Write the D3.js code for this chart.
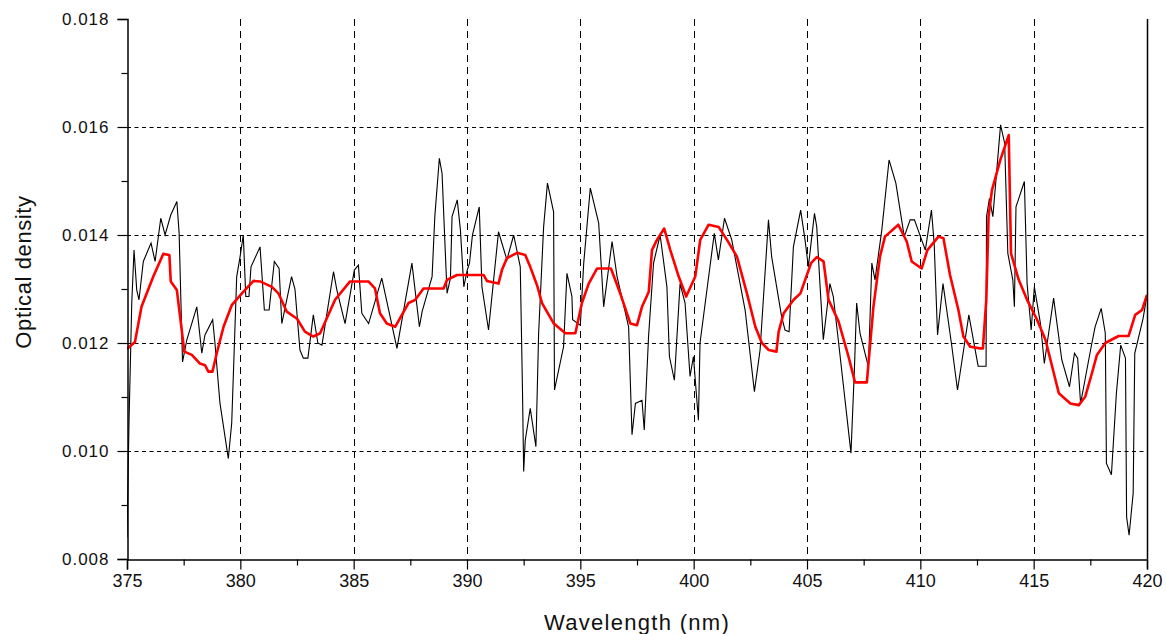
<!DOCTYPE html>
<html><head><meta charset="utf-8">
<script src="https://cdn.jsdelivr.net/npm/d3@7"></script>
<style>
html,body{margin:0;padding:0;background:#fff;}
svg{display:block;}
</style></head>
<body>
<svg id="chart" width="1166" height="634"></svg>
<script>
// ---- data ----
const rawWavelength = [375.00,375.09,375.21,375.31,375.43,375.53,375.72,376.06,376.24,376.49,376.68,376.93,377.20,377.30,377.38,377.45,377.64,378.08,378.30,378.44,378.78,378.88,379.10,379.47,379.62,379.84,379.99,380.13,380.24,380.38,380.47,380.87,381.06,381.27,381.50,381.71,381.83,382.26,382.41,382.63,382.78,382.98,383.22,383.42,383.60,384.11,384.26,384.62,385.03,385.21,385.36,385.66,386.24,386.91,387.57,387.90,388.02,388.46,388.58,388.78,388.90,389.02,389.12,389.27,389.34,389.57,389.71,389.86,390.01,390.11,390.24,390.54,390.66,390.95,391.39,391.76,392.06,392.35,392.45,392.50,392.57,392.79,393.04,393.16,393.38,393.55,393.82,393.86,394.26,394.41,394.63,394.66,395.00,395.15,395.44,395.81,396.03,396.40,396.62,397.13,397.28,397.43,397.72,397.82,398.01,398.23,398.52,398.82,398.93,399.15,399.40,399.62,399.84,399.99,400.21,400.28,400.91,401.09,401.36,401.68,402.27,402.68,402.93,403.30,403.44,403.88,404.03,404.21,404.40,404.72,404.91,405.06,405.33,405.43,405.57,405.72,406.01,406.16,406.38,406.94,407.09,407.19,407.34,407.71,407.86,408.00,408.30,408.62,408.92,409.29,409.55,409.74,410.22,410.49,410.61,410.76,411.00,411.37,411.64,411.93,412.14,412.55,412.90,412.92,413.05,413.20,413.54,413.72,413.86,414.08,414.15,414.22,414.59,414.71,414.89,415.03,415.30,415.47,415.88,416.24,416.58,416.80,416.94,417.07,417.51,417.71,417.98,418.16,418.21,418.43,418.65,418.84,419.05,419.10,419.21,419.39,419.46,419.83,420.00];
const rawDensity = [0.0084,0.01057,0.01274,0.01372,0.01298,0.0128,0.01351,0.01385,0.01351,0.01431,0.0140,0.01437,0.01462,0.01403,0.01274,0.01165,0.01206,0.01267,0.01181,0.01215,0.01243,0.0120,0.01089,0.00986,0.01052,0.01323,0.0136,0.0140,0.01286,0.01286,0.01341,0.01378,0.01261,0.01261,0.01351,0.01338,0.01236,0.01323,0.0130,0.01187,0.01172,0.01172,0.01252,0.0120,0.01196,0.01332,0.01298,0.01236,0.01335,0.01344,0.01255,0.01236,0.0132,0.0119,0.01348,0.0123,0.01258,0.01323,0.01434,0.01542,0.01514,0.01391,0.01292,0.0132,0.01434,0.01465,0.01409,0.01304,0.01335,0.01348,0.0140,0.01452,0.01304,0.01224,0.01406,0.01354,0.0140,0.01341,0.01107,0.00962,0.0102,0.01079,0.01008,0.01218,0.01415,0.01496,0.01443,0.01113,0.01193,0.01329,0.01286,0.01243,0.01233,0.01348,0.01487,0.01422,0.01267,0.01388,0.01323,0.0123,0.0103,0.01088,0.01094,0.01039,0.01212,0.01348,0.0140,0.01304,0.01175,0.01131,0.0131,0.01274,0.01138,0.01175,0.01057,0.0120,0.01403,0.01354,0.01431,0.01391,0.01261,0.0111,0.01187,0.01428,0.0136,0.01249,0.01224,0.01221,0.01378,0.01446,0.01392,0.01341,0.0144,0.01415,0.0131,0.01206,0.0131,0.01286,0.01206,0.00996,0.0115,0.01274,0.01218,0.01156,0.01348,0.01317,0.01409,0.01539,0.01496,0.01397,0.01428,0.01428,0.01372,0.01446,0.01385,0.01215,0.0131,0.0120,0.01113,0.01193,0.01252,0.01157,0.01157,0.01434,0.01468,0.01434,0.01604,0.0157,0.01366,0.01317,0.01267,0.01452,0.01499,0.0131,0.01224,0.01304,0.01236,0.01162,0.01283,0.01169,0.01119,0.01181,0.01172,0.01088,0.01187,0.0123,0.01264,0.01218,0.00977,0.00956,0.01107,0.01196,0.01172,0.00878,0.00844,0.00922,0.01181,0.01246,0.01289];

const smoothWavelength = [375.00,375.35,375.64,376.16,376.60,376.87,376.93,377.20,377.53,377.86,378.22,378.44,378.59,378.77,378.96,379.26,379.62,380.07,380.58,380.87,381.39,381.68,382.05,382.50,382.85,383.22,383.52,384.18,384.84,385.65,385.94,386.16,386.46,386.83,387.42,387.72,388.08,388.97,389.12,389.56,390.73,390.88,391.39,391.54,391.76,392.21,392.57,392.79,393.09,393.31,393.83,394.34,394.78,395.07,395.37,395.74,396.35,396.76,397.21,397.50,397.72,398.02,398.16,398.38,398.70,398.97,399.34,399.67,400.07,400.29,400.66,401.10,401.47,401.91,402.35,402.72,403.01,403.31,403.65,403.75,403.97,404.41,404.71,405.18,405.43,405.73,405.95,406.39,406.83,407.12,407.64,407.93,408.22,408.44,409.03,409.40,409.62,410.06,410.31,410.80,411.02,411.31,411.68,411.90,412.20,412.64,412.76,412.91,413.01,413.16,413.53,413.90,414.00,414.34,414.71,415.15,415.52,416.11,416.62,416.99,417.28,417.57,417.79,418.16,418.75,419.19,419.48,419.78,420.00];
const smoothDensity = [0.01189,0.01202,0.01267,0.01323,0.01365,0.01363,0.01314,0.01298,0.01184,0.01178,0.01162,0.01159,0.01147,0.01147,0.01181,0.0123,0.0127,0.01292,0.01315,0.01314,0.01304,0.01292,0.01258,0.01245,0.01221,0.01212,0.01218,0.0128,0.01314,0.01314,0.01301,0.01255,0.01236,0.0123,0.01274,0.0128,0.01301,0.01301,0.01317,0.01326,0.01326,0.01315,0.0131,0.01335,0.01357,0.01367,0.01363,0.01341,0.01307,0.01274,0.01236,0.01218,0.01218,0.01274,0.0131,0.01338,0.01338,0.01292,0.01236,0.01233,0.01267,0.01295,0.01372,0.01391,0.01412,0.01372,0.01323,0.01286,0.01323,0.01391,0.01419,0.01415,0.01391,0.0136,0.01292,0.0123,0.0120,0.01187,0.01184,0.01221,0.01255,0.0128,0.01292,0.01348,0.01359,0.01351,0.0128,0.0124,0.01175,0.01127,0.01127,0.01267,0.0136,0.01397,0.01419,0.01388,0.01351,0.01338,0.01372,0.01397,0.01394,0.01326,0.01261,0.01212,0.01193,0.0119,0.0119,0.0128,0.01434,0.01483,0.01539,0.01585,0.01366,0.01317,0.0128,0.01243,0.01206,0.01107,0.01088,0.01085,0.01101,0.01144,0.01178,0.0120,0.01213,0.01213,0.01252,0.01261,0.01289];

const xTicks = [375,380,385,390,395,400,405,410,415,420];
const yTicks = [0.008,0.010,0.012,0.014,0.016,0.018];
const xTitle = "Wavelength (nm)";
const yTitle = "Optical density";

// ---- layout ----
const svg = d3.select("#chart");
const L = 127, R = 1147, T = 19, B = 559;
const x = d3.scaleLinear().domain([375,420]).range([L,R]);
const y = d3.scaleLinear().domain([0.008,0.018]).range([B,T]);

const rawData = rawWavelength.map((w,i)=>({w, v: rawDensity[i]}));
const smoothData = smoothWavelength.map((w,i)=>({w, v: smoothDensity[i]}));

// gridlines
const grid = svg.append("g");
grid.selectAll("line.hg").data(yTicks.filter(t=>t>0.0085 && t<0.0175)).join("line")
  .attr("x1",L).attr("x2",R).attr("y1",d=>Math.round(y(d))+0.5).attr("y2",d=>Math.round(y(d))+0.5)
  .attr("stroke","#000").attr("stroke-width",1).attr("stroke-dasharray","4,3.5");
grid.selectAll("line.vg").data(xTicks.filter(t=>t>375 && t<420)).join("line")
  .attr("y1",T).attr("y2",B).attr("x1",d=>Math.round(x(d))+0.5).attr("x2",d=>Math.round(x(d))+0.5)
  .attr("stroke","#000").attr("stroke-width",1).attr("stroke-dasharray","7,5");

// clip
svg.append("clipPath").attr("id","clip").append("rect").attr("x",L).attr("y",T).attr("width",R-L).attr("height",B-T);

const line = d3.line().x(d=>x(d.w)).y(d=>y(d.v));
svg.append("path").datum(rawData).attr("clip-path","url(#clip)")
  .attr("d",line).attr("fill","none").attr("stroke","#000").attr("stroke-width",1.1).attr("stroke-linejoin","miter");
svg.append("path").datum(smoothData).attr("clip-path","url(#clip)")
  .attr("d",line).attr("fill","none").attr("stroke","#ff0000").attr("stroke-width",2.6).attr("stroke-linejoin","round");

// axes
const yAxis = d3.axisLeft(y).tickValues(yTicks).tickFormat(d3.format(".3f")).tickSize(10).tickPadding(8);
const yMinor = d3.axisLeft(y).tickValues(d3.range(0.009,0.018,0.002)).tickFormat("").tickSize(6);
const xAxis = d3.axisBottom(x).tickValues(xTicks).tickFormat(d3.format("d")).tickSize(10).tickPadding(5);
const xMinor = d3.axisBottom(x).tickValues(d3.range(377.5,420,5)).tickFormat("").tickSize(6);

const gy = svg.append("g").attr("transform",`translate(${L+0.5},0)`).call(yAxis);
svg.append("g").attr("transform",`translate(${L+0.5},0)`).call(yMinor).select(".domain").remove();
const gx = svg.append("g").attr("transform",`translate(0,${B+0.5})`).call(xAxis);
svg.append("g").attr("transform",`translate(0,${B+0.5})`).call(xMinor).select(".domain").remove();
svg.selectAll(".domain").attr("stroke","#000").attr("stroke-width",1.5);
svg.selectAll(".tick line").attr("stroke","#000").attr("stroke-width",1.2);

gy.selectAll("text").attr("font-family","'Liberation Sans', Arial, sans-serif").attr("font-size",17)
  .attr("letter-spacing","1px").attr("fill","#111");
gx.selectAll("text").attr("font-family","'Liberation Sans Narrow','Arial Narrow','Liberation Sans',sans-serif").attr("font-size",18)
  .attr("fill","#111");

// right border
svg.append("line").attr("x1",R+0.5).attr("x2",R+0.5).attr("y1",T).attr("y2",B)
  .attr("stroke","#000").attr("stroke-width",1.5);

// titles
svg.append("text").attr("x",(L+R)/2).attr("y",630).attr("text-anchor","middle")
  .attr("font-family","'Liberation Sans', Arial, sans-serif").attr("font-size",22).attr("letter-spacing","1.3px")
  .attr("fill","#111").text(xTitle);
svg.append("text").attr("transform","translate(31,272) rotate(-90)").attr("text-anchor","middle")
  .attr("font-family","'Liberation Sans', Arial, sans-serif").attr("font-size",22).attr("letter-spacing","0.6px")
  .attr("fill","#111").text(yTitle);
</script>
</body></html>
